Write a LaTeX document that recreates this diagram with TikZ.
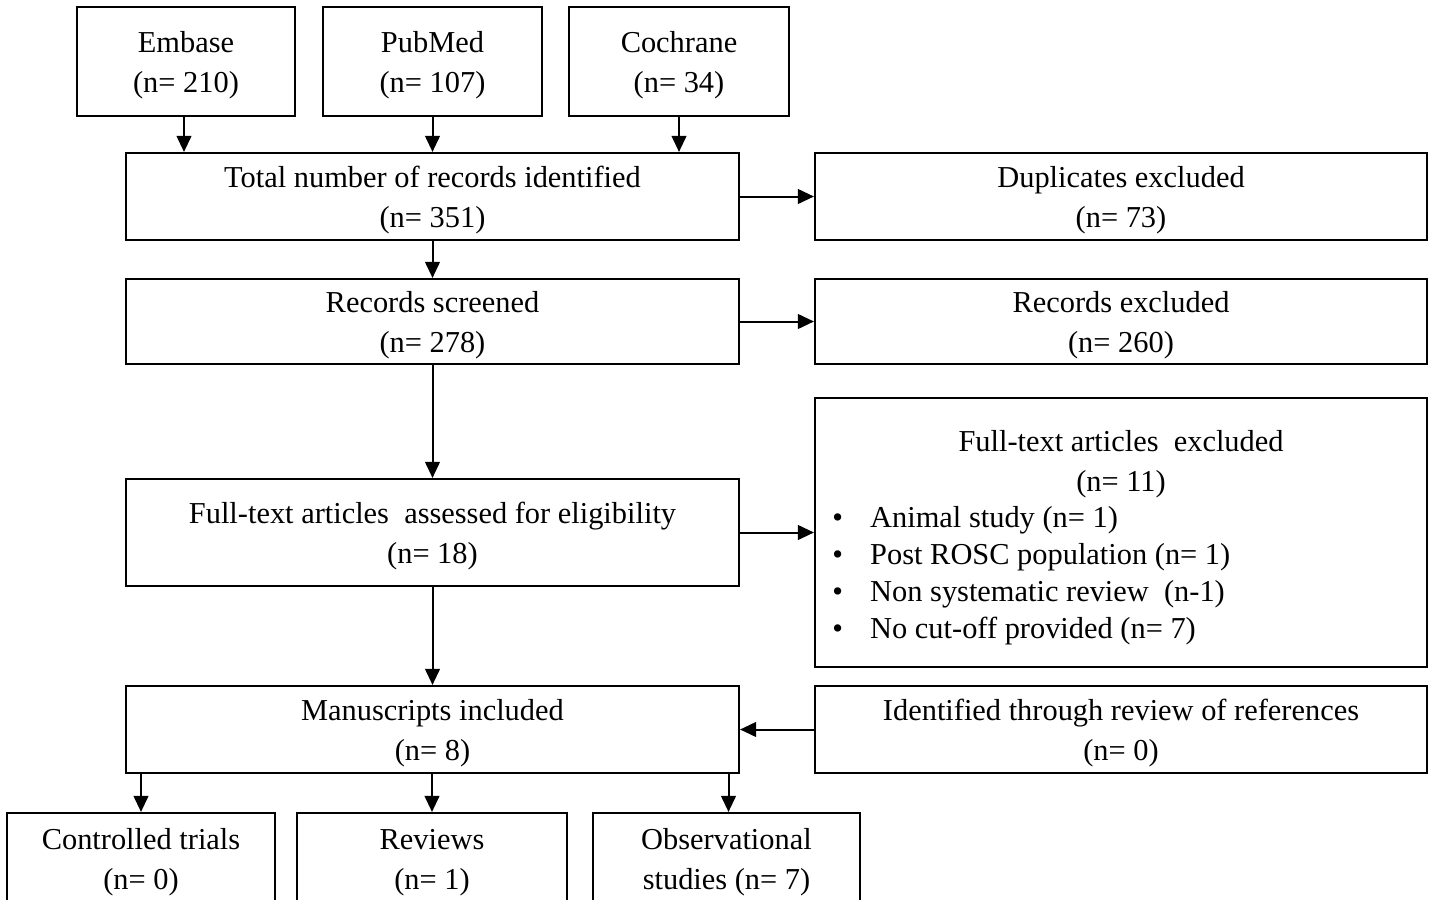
\documentclass[tikz,border=0pt]{standalone}
\usepackage{fontspec}
\setmainfont{Liberation Serif}
\usetikzlibrary{arrows.meta}
\begin{document}
\begin{tikzpicture}[x=0.75pt,y=-0.75pt,
  box/.style={draw,line width=1.6pt,fill=white,align=center,inner sep=0pt,text depth=0pt,
    font=\fontsize{22.8}{30}\selectfont},
  txt/.style={inner sep=0pt,font=\fontsize{22.8}{30}\selectfont},
  arr/.style={line width=1.5pt,-{Triangle[length=12pt,width=11pt]}}]
\clip (0,0) rectangle (1434,899);
\useasboundingbox (0,0) rectangle (1434,899);
% top sources
\node[box,minimum width=163.5pt,minimum height=81.75pt] (emb) at (186,61.5) {Embase\\(n= 210)};
\node[box,minimum width=164.25pt,minimum height=81.75pt] (pub) at (432.5,61.5) {PubMed\\(n= 107)};
\node[box,minimum width=165pt,minimum height=81.75pt] (coc) at (679,61.5) {Cochrane\\(n= 34)};
% main column
\node[box,minimum width=459.75pt,minimum height=65.25pt] (tot) at (432.5,196.5) {Total number of records identified\\(n= 351)};
\node[box,minimum width=459.75pt,minimum height=63.75pt,text depth=-1.5pt] (scr) at (432.5,321.5) {Records screened\\(n= 278)};
\node[box,minimum width=459.75pt,minimum height=80.25pt,text depth=-9pt] (fta) at (432.5,532.5) {Full-text articles\ \ assessed for eligibility\\(n= 18)};
\node[box,minimum width=459.75pt,minimum height=65.25pt,text depth=-6pt] (man) at (432.5,729.5) {Manuscripts included\\(n= 8)};
% right column
\node[box,minimum width=459pt,minimum height=65.25pt] (dup) at (1121,196.5) {Duplicates excluded\\(n= 73)};
\node[box,minimum width=459pt,minimum height=63.75pt,text depth=-1.5pt] (rex) at (1121,321.5) {Records excluded\\(n= 260)};
\node[box,minimum width=459pt,minimum height=201.75pt] (fte) at (1121,532.5) {};
\node[txt,align=center] (ftet) at (1121,464) {Full-text articles\ \ excluded\\(n= 11)};
\node[txt,align=left,anchor=west,font=\fontsize{22.8}{27.75}\selectfont] (ftel) at (832,575.5)
  {\makebox[28.5pt][l]{\textbullet}Animal study (n= 1)\\
   \makebox[28.5pt][l]{\textbullet}Post ROSC population (n= 1)\\
   \makebox[28.5pt][l]{\textbullet}Non systematic review\ \ (n-1)\\
   \makebox[28.5pt][l]{\textbullet}No cut-off provided (n= 7)};
\node[box,minimum width=459pt,minimum height=65.25pt,text depth=-6pt] (idr) at (1121,729.5) {Identified through review of references\\(n= 0)};
% bottom
\node[box,minimum width=201pt,minimum height=69pt] (ct) at (141,859) {Controlled trials\\(n= 0)};
\node[box,minimum width=202.5pt,minimum height=69pt] (rev) at (432,859) {Reviews\\(n= 1)};
\node[box,minimum width=200.25pt,minimum height=69pt] (obs) at (726.5,859) {Observational\\studies (n= 7)};
% arrows
\draw[arr] ([xshift=-1.5]emb.south) -- ([xshift=-1.5]emb.south |- tot.north);
\draw[arr] (pub.south) -- (pub.south |- tot.north);
\draw[arr] (coc.south) -- (coc.south |- tot.north);
\draw[arr] (tot.south) -- (scr.north);
\draw[arr] (tot.east) -- (dup.west);
\draw[arr] (scr.east) -- (rex.west);
\draw[arr] (scr.south) -- (fta.north);
\draw[arr] (fta.east) -- (fta.east -| fte.west);
\draw[arr] (fta.south) -- (man.north);
\draw[arr] (idr.west) -- (man.east);
\draw[arr] (man.south -| ct.north) -- (ct.north);
\draw[arr] (man.south -| rev.north) -- (rev.north);
\draw[arr] ([xshift=1.5]man.south -| obs.north) -- ([xshift=1.5]obs.north);
\end{tikzpicture}
\end{document}
